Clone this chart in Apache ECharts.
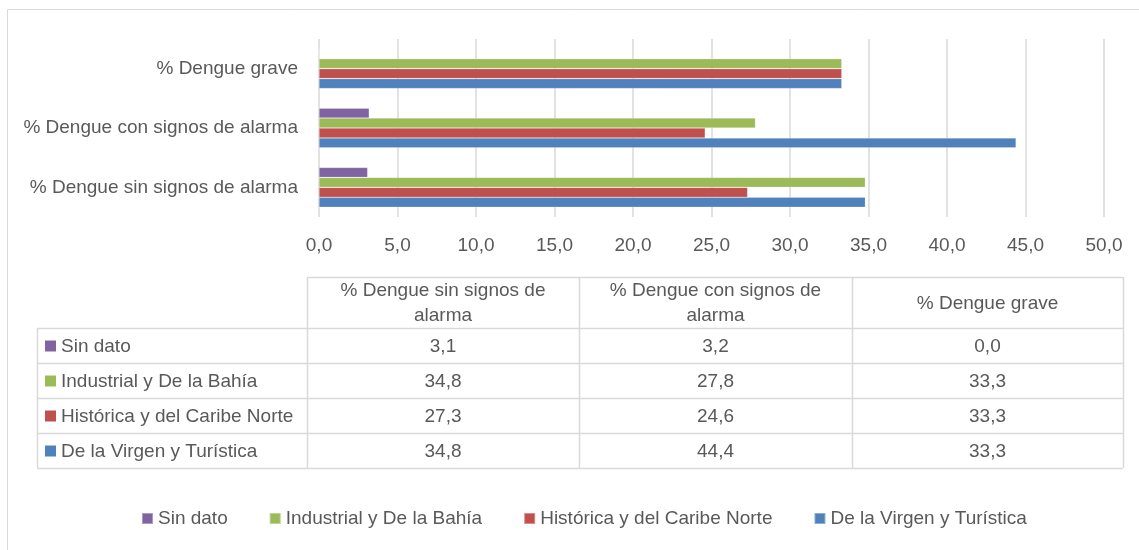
<!DOCTYPE html>
<html>
<head>
<meta charset="utf-8">
<script src="https://cdn.jsdelivr.net/npm/echarts@6/dist/echarts.min.js"></script>
<style>
  html, body { margin: 0; padding: 0; background: #fff; }
  #chart { width: 1139px; height: 550px; }
</style>
</head>
<body>
<div id="chart"></div>
<script>
// categorias (eje vertical, de abajo hacia arriba)
var categories = ["% Dengue sin signos de alarma", "% Dengue con signos de alarma", "% Dengue grave"];
// encabezados de la tabla de datos
var tableHeaders = ["% Dengue sin signos de\nalarma", "% Dengue con signos de\nalarma", "% Dengue grave"];
// series (orden de la leyenda)
var seriesNames = ["Sin dato", "Industrial y De la Bahía", "Histórica y del Caribe Norte", "De la Virgen y Turística"];
var sinDato = [3.1, 3.2, 0.0];
var industrial = [34.8, 27.8, 33.3];
var historica = [27.3, 24.6, 33.3];
var virgen = [34.8, 44.4, 33.3];
var colors = ["#8064A2", "#9BBB59", "#C0504D", "#4F81BD"];
// eje X
var xMin = 0, xMax = 50, xStep = 5;

var seriesData = [sinDato, industrial, historica, virgen];
var FONT = '"Liberation Sans", Arial, sans-serif';
var TXT = "#595959";
var LINE = "#D9D9D9";

function fmt(v) {
  return v.toFixed(1).replace(".", ",");
}

var myChart = echarts.init(document.getElementById("chart"));

// tabla de datos construida con graphic
var colX = [37, 307, 579, 852, 1123];
var headTop = 277, headBottom = 328, rowH = 35;
var graphics = [];

// marco exterior
graphics.push({
  type: "rect",
  shape: { x: 7.5, y: 9.5, width: 1150, height: 560 },
  style: { fill: null, stroke: LINE, lineWidth: 1 },
  silent: true
});

function hline(x1, x2, y) {
  graphics.push({
    type: "line",
    shape: { x1: x1, y1: y + 0.5, x2: x2, y2: y + 0.5 },
    style: { stroke: LINE, lineWidth: 1.5 },
    silent: true
  });
}
function vline(x, y1, y2) {
  graphics.push({
    type: "line",
    shape: { x1: x + 0.5, y1: y1, x2: x + 0.5, y2: y2 },
    style: { stroke: LINE, lineWidth: 1.5 },
    silent: true
  });
}
function text(str, x, y, align) {
  graphics.push({
    type: "text",
    x: x,
    y: y,
    style: {
      text: str,
      font: "19px " + FONT,
      fill: TXT,
      align: align,
      textAlign: align,
      verticalAlign: "middle",
      textVerticalAlign: "middle",
      lineHeight: 25
    },
    silent: true
  });
}

var nRows = seriesNames.length;
var tableBottom = headBottom + rowH * nRows;
// lineas horizontales
hline(colX[1], colX[4], headTop);
for (var r = 0; r <= nRows; r++) {
  hline(colX[0], colX[4], headBottom + rowH * r);
}
// lineas verticales
vline(colX[0], headBottom, tableBottom);
for (var c = 1; c < colX.length; c++) {
  vline(colX[c], headTop, tableBottom);
}
// encabezados
for (var j = 0; j < tableHeaders.length; j++) {
  text(tableHeaders[j], (colX[j + 1] + colX[j + 2]) / 2, (headTop + headBottom) / 2 + 1, "center");
}
// filas
for (var i = 0; i < nRows; i++) {
  var cy = headBottom + rowH * i + rowH / 2 + 1;
  graphics.push({
    type: "rect",
    shape: { x: 45, y: cy - 6, width: 11, height: 11 },
    style: { fill: colors[i] },
    silent: true
  });
  text(seriesNames[i], 61, cy, "left");
  for (var k = 0; k < categories.length; k++) {
    text(fmt(seriesData[i][k]), (colX[k + 1] + colX[k + 2]) / 2, cy, "center");
  }
}

var series = [];
for (var s = 0; s < seriesNames.length; s++) {
  series.push({
    name: seriesNames[s],
    type: "bar",
    data: seriesData[s],
    barGap: "0%",
    barCategoryGap: "33%",
    itemStyle: {
      color: colors[s],
      borderColor: "rgba(255,255,255,0.35)",
      borderWidth: 0.6
    },
    emphasis: { disabled: true },
    animation: false
  });
}

var option = {
  animation: false,
  color: colors,
  textStyle: { fontFamily: FONT },
  grid: {
    left: 319,
    right: 35,
    top: 39,
    height: 178,
    containLabel: false
  },
  xAxis: {
    type: "value",
    min: xMin,
    max: xMax,
    interval: xStep,
    axisLine: { show: false },
    axisTick: { show: false },
    axisLabel: {
      color: TXT,
      fontSize: 19,
      fontFamily: FONT,
      margin: 19,
      formatter: function (v) { return fmt(v); }
    },
    splitLine: { show: true, lineStyle: { color: LINE, width: 1.5 } }
  },
  yAxis: {
    type: "category",
    data: categories,
    axisLine: { show: false },
    axisTick: { show: false },
    axisLabel: {
      color: TXT,
      fontSize: 19,
      fontFamily: FONT,
      margin: 21
    }
  },
  legend: {
    data: seriesNames,
    left: 136,
    top: 504,
    icon: "rect",
    itemWidth: 11,
    itemHeight: 11,
    itemGap: 41,
    selectedMode: false,
    textStyle: { color: TXT, fontSize: 19, fontFamily: FONT }
  },
  graphic: graphics,
  series: series
};

myChart.setOption(option);
window.addEventListener("resize", function () {
  myChart.resize();
});
</script>
</body>
</html>
